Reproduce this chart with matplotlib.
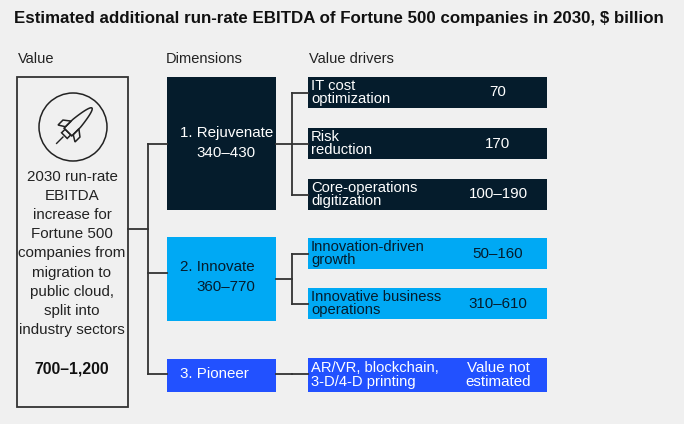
import matplotlib
matplotlib.use("Agg")
import matplotlib.pyplot as plt
from matplotlib.patches import Rectangle, Circle, Polygon
import numpy as np

# ---- data ----
title = "Estimated additional run-rate EBITDA of Fortune 500 companies in 2030, $ billion"
col_headers = ["Value", "Dimensions", "Value drivers"]
value_text = ["2030 run-rate", "EBITDA", "increase for", "Fortune 500", "companies from",
              "migration to", "public cloud,", "split into", "industry sectors"]
total_value = "700–1,200"
dimensions = ["1. Rejuvenate", "2. Innovate", "3. Pioneer"]
dimension_values = ["340–430", "360–770", ""]
drivers = [["IT cost\noptimization", "Risk\nreduction", "Core-operations\ndigitization"],
           ["Innovation-driven\ngrowth", "Innovative business\noperations"],
           ["AR/VR, blockchain,\n3-D/4-D printing"]]
driver_values = [["70", "170", "100–190"],
                 ["50–160", "310–610"],
                 ["Value not\nestimated"]]

# ---- style ----
BG = "#f0f0f0"
colors = ["#051c2c", "#00a9f4", "#2251ff"]
text_colors = ["white", "#051c2c", "white"]
LINE = "#333333"
FONT = "Liberation Sans"

fig = plt.figure(figsize=(6.84, 4.24), dpi=100, facecolor=BG)
ax = fig.add_axes([0, 0, 1, 1])
ax.set_xlim(0, 684)
ax.set_ylim(424, 0)
ax.axis("off")
ax.set_facecolor(BG)

ax.text(14, 19, title, fontsize=12.2, fontweight="bold", family=FONT,
        color="#111111", va="center", ha="left")

hx = [18, 166, 309]
for x, h in zip(hx, col_headers):
    ax.text(x, 59, h, fontsize=10.5, family=FONT, color="#222222", va="center", ha="left")

# left box
ax.add_patch(Rectangle((17, 77), 111, 330, facecolor="none", edgecolor=LINE, lw=1.3))
# rocket icon
cx, cy = 73, 127
ax.add_patch(Circle((cx, cy), 34, facecolor="none", edgecolor="#222222", lw=1.1))

def rot(pts, ang=45, dx=2, dy=-2):
    a = np.deg2rad(ang)
    pts = np.array(pts, dtype=float)
    x = pts[:, 0] * np.cos(a) - pts[:, 1] * np.sin(a)
    y = pts[:, 0] * np.sin(a) + pts[:, 1] * np.cos(a)
    return np.column_stack([x + cx + dx, y + cy + dy])

ec = "#222222"
nose = [(5.5 * np.cos(tt), -2 - 22 * np.sin(tt) ** 1.8) for tt in np.linspace(0, np.pi, 40)]
body = [(5.5, 10)] + nose + [(-5.5, 10)]
ax.add_patch(Polygon(rot(body), closed=True, facecolor="none", edgecolor=ec, lw=1.1))
finL = [(-5.5, 0), (-12, 5), (-12, 12), (-5.5, 8)]
finR = [(5.5, 0), (12, 5), (12, 12), (5.5, 8)]
for f in (finL, finR):
    ax.add_patch(Polygon(rot(f), closed=True, facecolor="none", edgecolor=ec, lw=1.1))
noz = [(-4, 10), (4, 10), (4, 15), (-4, 15)]
ax.add_patch(Polygon(rot(noz), closed=True, facecolor="none", edgecolor=ec, lw=1.1))
ex = rot([(0, 17), (0, 26)])
ax.plot(ex[:, 0], ex[:, 1], color=ec, lw=1.0)

for i, line in enumerate(value_text):
    ax.text(72, 177 + i * 19.1, line, fontsize=10.9, family=FONT, color="#222222",
            ha="center", va="center")
ax.text(72, 369, total_value, fontsize=11.3, family=FONT, fontweight="bold", color="#111111",
        ha="center", va="center")

# dimension boxes
dim_boxes = [(77, 210), (237, 321), (359, 392)]
dim_mid = [143, 277, 374]
for i, ((y0, y1), name, val) in enumerate(zip(dim_boxes, dimensions, dimension_values)):
    ax.add_patch(Rectangle((167, y0), 109, y1 - y0, facecolor=colors[i], edgecolor="none"))
    if val:
        ax.text(180, dim_mid[i] - 10, name, fontsize=10.9, family=FONT, color=text_colors[i],
                ha="left", va="center")
        ax.text(196, dim_mid[i] + 10, val, fontsize=10.9, family=FONT, color=text_colors[i],
                ha="left", va="center")
    else:
        ax.text(180, dim_mid[i], name, fontsize=10.9, family=FONT, color=text_colors[i],
                ha="left", va="center")

# connectors left
lw = 1.3
ax.plot([128, 148], [229, 229], color=LINE, lw=lw)
ax.plot([148, 148], [144, 374], color=LINE, lw=lw)
for y in [144, 273, 374]:
    ax.plot([148, 167], [y, y], color=LINE, lw=lw)

# driver boxes
drv_boxes = [[(77, 108), (128, 159), (179, 210)],
             [(238, 269), (288, 319)],
             [(358, 392)]]
conn_y = [144, 279, 374]
for i in range(3):
    boxes = drv_boxes[i]
    mids = [(a + b) / 2 for a, b in boxes]
    ax.plot([276, 292], [conn_y[i], conn_y[i]], color=LINE, lw=lw)
    if len(boxes) > 1:
        ax.plot([292, 292], [mids[0], mids[-1]], color=LINE, lw=lw)
        for m in mids:
            ax.plot([292, 308], [m, m], color=LINE, lw=lw)
    else:
        ax.plot([292, 308], [conn_y[i], conn_y[i]], color=LINE, lw=lw)
    for (y0, y1), m, name, val in zip(boxes, mids, drivers[i], driver_values[i]):
        ax.add_patch(Rectangle((308, y0), 239, y1 - y0, facecolor=colors[i], edgecolor="none"))
        ax.text(311, m, name, fontsize=10.6, family=FONT, color=text_colors[i],
                ha="left", va="center", linespacing=0.95)
        ax.text(498, m, val, fontsize=10.9, family=FONT, color=text_colors[i],
                ha="center", va="center", linespacing=0.95)

fig.savefig("out.png", dpi=100, facecolor=BG)
